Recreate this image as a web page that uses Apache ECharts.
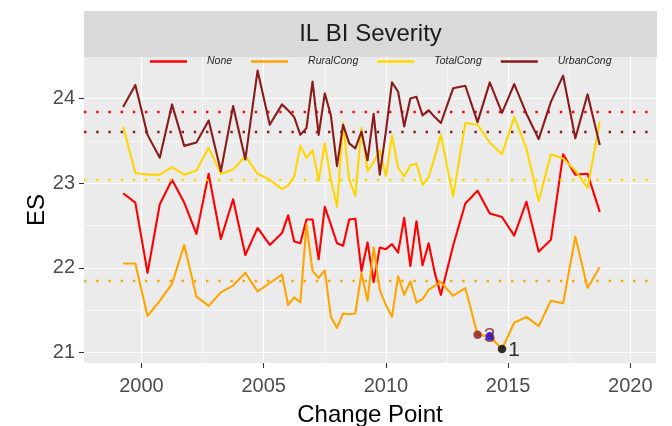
<!DOCTYPE html>
<html>
<head>
<meta charset="utf-8">
<script src="https://cdn.jsdelivr.net/npm/echarts@6/dist/echarts.min.js"></script>
<style>
  html, body { margin: 0; padding: 0; background: #ffffff; }
  #chart { width: 672px; height: 426px; }
</style>
</head>
<body>
<div id="chart"></div>
<script>
// Change-point dates (decimal years) shared by every group
const changePoint = [
  1999.25, 1999.75, 2000.25, 2000.75, 2001.25, 2001.75, 2002.25, 2002.75, 2003.25, 2003.75,
  2004.25, 2004.75, 2005.25, 2005.75,
  2006.0, 2006.25, 2006.5, 2006.75, 2007.0, 2007.25, 2007.5, 2007.75, 2008.0, 2008.25,
  2008.5, 2008.75, 2009.0, 2009.25, 2009.5, 2009.75, 2010.0, 2010.25, 2010.5, 2010.75,
  2011.0, 2011.25, 2011.5, 2011.75, 2012.0, 2012.25,
  2012.75, 2013.25, 2013.75, 2014.25, 2014.75, 2015.25, 2015.75, 2016.25, 2016.75, 2017.25,
  2017.75, 2018.25, 2018.75
];

// ES per group at each change point
const esNone = [
  22.88, 22.77, 21.94, 22.75, 23.04, 22.77, 22.40, 23.11, 22.34, 22.81,
  22.15, 22.47, 22.27, 22.41,
  22.62, 22.31, 22.29, 22.57, 22.57, 22.10, 22.72, 22.51, 22.29, 22.26,
  22.57, 22.58, 21.96, 22.30, 21.83, 22.24, 22.22, 22.28, 22.18, 22.59,
  22.02, 22.55, 22.03, 22.29, 21.94, 21.68,
  22.26, 22.76, 22.91, 22.64, 22.60, 22.38, 22.78, 22.19, 22.33, 23.34,
  23.10, 23.11, 22.66
];
const esRuralCong = [
  22.05, 22.05, 21.43, 21.61, 21.81, 22.27, 21.66, 21.55, 21.71, 21.79,
  21.94, 21.72, 21.82, 21.92,
  21.56, 21.65, 21.59, 22.51, 21.96, 21.88, 21.97, 21.42, 21.29, 21.46,
  21.45, 21.46, 21.94, 21.61, 22.24, 21.74, 21.56, 21.42, 21.90, 21.68,
  21.84, 21.59, 21.63, 21.74, 21.79, 21.83,
  21.67, 21.76, 21.21, 21.19, 21.04, 21.35, 21.42, 21.31, 21.61, 21.58,
  22.37, 21.76, 22.01
];
const esTotalCong = [
  23.67, 23.12, 23.10, 23.10, 23.19, 23.10, 23.15, 23.42, 23.11, 23.16,
  23.32, 23.11, 23.04, 22.93,
  22.97, 23.08, 23.44, 23.30, 23.39, 23.03, 23.47, 23.04, 22.72, 23.71,
  23.04, 22.85, 23.65, 23.14, 23.25, 23.39, 23.08, 23.56, 23.18, 23.08,
  23.21, 23.23, 22.98, 23.07, 23.31, 23.57,
  22.84, 23.71, 23.69, 23.48, 23.34, 23.78, 23.41, 22.79, 23.34, 23.29,
  23.15, 22.94, 23.73
];
const esUrbanCong = [
  23.90, 24.16, 23.57, 23.30, 23.93, 23.44, 23.48, 23.74, 23.14, 23.91,
  23.28, 24.33, 23.69, 23.93,
  23.86, 23.78, 23.57, 23.65, 24.20, 23.57, 24.06, 23.80, 23.20, 23.69,
  23.47, 23.41, 23.61, 23.27, 23.82, 23.10, 23.61, 24.19, 24.08, 23.67,
  24.00, 24.02, 23.80, 23.86, 23.78, 23.71,
  24.12, 24.15, 23.72, 24.19, 23.83, 24.17, 23.82, 23.52, 23.96, 24.27,
  23.53, 24.05, 23.45
];

// Group names and their overall reference levels (dotted lines)
const groupNames = ['None', 'RuralCong', 'TotalCong', 'UrbanCong'];
const groupLevels = [23.843, 21.846, 23.037, 23.611];

// Flagged change points on the RuralCong curve, with their rank labels
const flaggedYears = [2013.75, 2014.25, 2014.75];
const flaggedLabels = ['3', '', '1'];

// Axis ticks
const xMajorTicks = [2000, 2005, 2010, 2015, 2020];
const xMinorTicks = [2002.5, 2007.5, 2012.5, 2017.5];
const yMajorTicks = [21, 22, 23, 24];
const yMinorTicks = [21.5, 22.5, 23.5];

// ---- styling ----
const groupColors = ['#FF0000', '#FFA500', '#FFD700', '#8B1A1A'];
const flaggedColors = ['#8B1A1A', '#0000FF', '#000000'];
const FONT = '"Liberation Sans", Arial, Helvetica, sans-serif';
const X_MIN = 1997.65, X_MAX = 2021.05, Y_MIN = 20.875, Y_MAX = 24.49;

const groupValues = [esNone, esRuralCong, esTotalCong, esUrbanCong];

const lineSeries = groupNames.map((name, g) => ({
  name: name,
  type: 'line',
  xAxisIndex: 0,
  yAxisIndex: 0,
  data: changePoint.map((x, i) => [x, groupValues[g][i]]),
  showSymbol: false,
  symbol: 'none',
  color: groupColors[g],
  lineStyle: { width: 2.1, color: groupColors[g], join: 'round' },
  z: 3 + g,
  markLine: {
    silent: true,
    symbol: 'none',
    label: { show: false },
    animation: false,
    lineStyle: { type: [2.4, 9.8], width: 2.4, color: groupColors[g], cap: 'butt' },
    data: [{ yAxis: groupLevels[g] }]
  }
}));

// the flagged points sit on the RuralCong curve
const flaggedValue = k => [flaggedYears[k], esRuralCong[changePoint.indexOf(flaggedYears[k])]];

const flaggedDots = flaggedYears.map((yr, k) => ({
  value: flaggedValue(k),
  itemStyle: { color: flaggedColors[k] }
}));

// rank labels go in their own layer so no dot covers them
const flaggedTexts = flaggedYears
  .map((yr, k) => ({
    value: flaggedValue(k),
    label: { show: flaggedLabels[k] !== '', formatter: flaggedLabels[k], color: flaggedColors[k] }
  }))
  .filter((d, k) => flaggedLabels[k] !== '');

const yearLabel = v => String(Math.round(v));

const option = {
  animation: false,
  backgroundColor: '#ffffff',
  textStyle: { fontFamily: FONT },
  graphic: [
    {
      type: 'rect',
      shape: { x: 84, y: 11, width: 573, height: 46 },
      style: { fill: '#D9D9D9' },
      silent: true
    },
    {
      type: 'text',
      x: 370.5, y: 34,
      style: {
        text: 'IL BI Severity',
        fontFamily: FONT, fontSize: 24, fill: '#1A1A1A',
        textAlign: 'center', textVerticalAlign: 'middle'
      },
      silent: true
    }
  ],
  legend: {
    data: groupNames,
    left: 150,
    top: 56,
    padding: 0,
    itemGap: 19,
    itemWidth: 37,
    itemHeight: 2.6,
    icon: 'rect',
    textStyle: {
      fontFamily: FONT, fontSize: 10.5, fontStyle: 'italic', color: '#222222',
      padding: [0, 0, 0, 15]
    }
  },
  grid: {
    left: 84, right: 16, top: 57, bottom: 63,
    show: true, backgroundColor: '#EBEBEB', borderWidth: 0,
    containLabel: false,
    outerBoundsMode: 'none'
  },
  xAxis: [
    {
      type: 'value', min: X_MIN, max: X_MAX,
      axisLine: { show: false },
      axisTick: { show: true, customValues: xMajorTicks, length: 5, lineStyle: { color: '#333333', width: 1.1 } },
      axisLabel: { customValues: xMajorTicks, formatter: yearLabel, fontSize: 20, color: '#4D4D4D', margin: 13, fontFamily: FONT },
      splitLine: { show: true, lineStyle: { color: '#FFFFFF', width: 1.2 } },
      name: 'Change Point', nameLocation: 'middle', nameGap: 40,
      nameTextStyle: { fontSize: 24, color: '#000000', fontFamily: FONT }
    },
    {
      type: 'value', min: X_MIN, max: X_MAX, position: 'bottom',
      axisLine: { show: false },
      axisTick: { show: false, customValues: xMinorTicks },
      axisLabel: { show: false, customValues: xMinorTicks },
      splitLine: { show: true, lineStyle: { color: '#FFFFFF', width: 0.6 } }
    }
  ],
  yAxis: [
    {
      type: 'value', min: Y_MIN, max: Y_MAX,
      axisLine: { show: false },
      axisTick: { show: true, customValues: yMajorTicks, length: 5, lineStyle: { color: '#333333', width: 1.1 } },
      axisLabel: { customValues: yMajorTicks, fontSize: 20, color: '#4D4D4D', margin: 9, fontFamily: FONT },
      splitLine: { show: true, lineStyle: { color: '#FFFFFF', width: 1.2 } },
      name: 'ES', nameLocation: 'middle', nameGap: 35, nameRotate: 90,
      nameMoveOverlap: false,
      nameTextStyle: { fontSize: 24, color: '#000000', fontFamily: FONT }
    },
    {
      type: 'value', min: Y_MIN, max: Y_MAX, position: 'left',
      axisLine: { show: false },
      axisTick: { show: false, customValues: yMinorTicks },
      axisLabel: { show: false, customValues: yMinorTicks },
      splitLine: { show: true, lineStyle: { color: '#FFFFFF', width: 0.6 } }
    }
  ],
  series: lineSeries.concat([
    {
      name: 'flagged',
      type: 'scatter',
      xAxisIndex: 0,
      yAxisIndex: 0,
      symbolSize: 8.5,
      z: 10,
      data: flaggedDots
    },
    {
      name: 'flaggedRank',
      type: 'scatter',
      xAxisIndex: 0,
      yAxisIndex: 0,
      symbolSize: 8.5,
      z: 11,
      itemStyle: { color: 'rgba(0,0,0,0)' },
      data: flaggedTexts,
      label: {
        show: true, position: 'right', distance: 2, offset: [0, 1.5],
        fontSize: 21, fontFamily: FONT
      }
    }
  ])
};

const chart = echarts.init(document.getElementById('chart'), null, { renderer: 'canvas' });
chart.setOption(option);
</script>
</body>
</html>
